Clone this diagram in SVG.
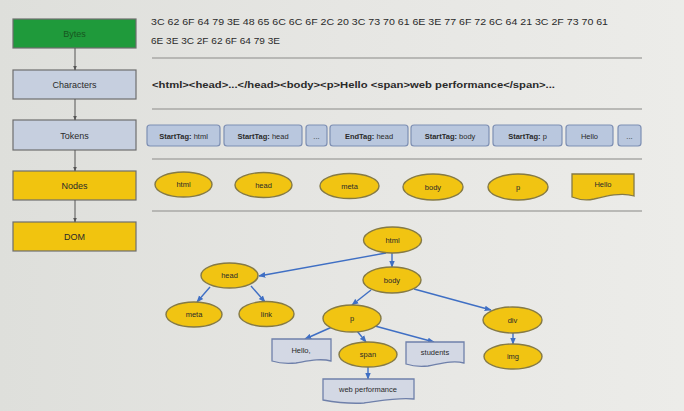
<svg xmlns="http://www.w3.org/2000/svg" width="684" height="411" viewBox="0 0 684 411">
<defs>
<linearGradient id="bg" x1="0" y1="0" x2="1" y2="0">
<stop offset="0" stop-color="#dedfdb"/>
<stop offset="0.5" stop-color="#e6e6e3"/>
<stop offset="1" stop-color="#ecece9"/>
</linearGradient>
<marker id="ag" viewBox="0 0 10 10" refX="9" refY="5" markerWidth="5" markerHeight="5" orient="auto">
<path d="M0,1 L10,5 L0,9 Z" fill="#555"/>
</marker>
<marker id="ab" viewBox="0 0 10 10" refX="9" refY="5" markerWidth="5" markerHeight="5" orient="auto">
<path d="M0,1 L10,5 L0,9 Z" fill="#3f6fc4"/>
</marker>
</defs>
<style>
text{font-family:"Liberation Sans","DejaVu Sans",sans-serif;fill:#2a2a2a}
.stage{stroke:#6e6e6e;stroke-width:1.2}
.lbl{font-size:9px;text-anchor:middle}
.sep{stroke:#a8a8a6;stroke-width:1.3}
.tok{fill:#b9c7de;stroke:#7d8fb3;stroke-width:1.2}
.tt{font-size:7.5px;text-anchor:middle}
.el{fill:#f1c412;stroke:#857a45;stroke-width:1.4}
.et{font-size:7.5px;text-anchor:middle}
.doc{fill:#d3d8e4;stroke:#6f80aa;stroke-width:1.3}
.docy{fill:#f1c412;stroke:#857a45;stroke-width:1.3}
.sa{stroke:#555;stroke-width:1;fill:none;marker-end:url(#ag)}
.ba{stroke:#3f6fc4;stroke-width:1.4;fill:none;marker-end:url(#ab)}
</style>
<rect width="684" height="411" fill="url(#bg)"/>

<g id="stage-bytes"><rect class="stage" x="13" y="19" width="123" height="29" fill="#1f9a3b" stroke="#3c6b3c"/><text class="lbl" x="74.5" y="37" style="fill:#17561f">Bytes</text></g>
<g id="stage-characters"><rect class="stage" x="13" y="70" width="123" height="29" fill="#c6cfdf"/><text class="lbl" x="74.5" y="88">Characters</text></g>
<g id="stage-tokens"><rect class="stage" x="13" y="120" width="123" height="30" fill="#c6cfdf"/><text class="lbl" x="74.5" y="138.5">Tokens</text></g>
<g id="stage-nodes"><rect class="stage" x="13" y="171" width="123" height="29" fill="#f1c40f" stroke="#7d6c2e"/><text class="lbl" x="74.5" y="189">Nodes</text></g>
<g id="stage-dom"><rect class="stage" x="13" y="222" width="123" height="29" fill="#f1c40f" stroke="#7d6c2e"/><text class="lbl" x="74.5" y="240">DOM</text></g>

<g id="bytes-text">
<text x="151" y="25" font-size="9.5" textLength="457" lengthAdjust="spacingAndGlyphs">3C 62 6F 64 79 3E 48 65 6C 6C 6F 2C 20 3C 73 70 61 6E 3E 77 6F 72 6C 64 21 3C 2F 73 70 61</text>
<text x="151" y="44" font-size="9.5" textLength="129" lengthAdjust="spacingAndGlyphs">6E 3E 3C 2F 62 6F 64 79 3E</text>
</g>
<g id="characters-text">
<text x="152" y="88" font-size="9.5" font-weight="bold" textLength="403" lengthAdjust="spacingAndGlyphs">&lt;html&gt;&lt;head&gt;...&lt;/head&gt;&lt;body&gt;&lt;p&gt;Hello &lt;span&gt;web performance&lt;/span&gt;...</text>
</g>

<g id="separators">
<line class="sep" x1="152" y1="58" x2="642" y2="58"/>
<line class="sep" x1="152" y1="109" x2="642" y2="109"/>
<line class="sep" x1="152" y1="159" x2="642" y2="159"/>
<line class="sep" x1="152" y1="211" x2="642" y2="211"/>
</g>

<g id="tokens">
<g id="tok1"><rect class="tok" x="147" y="125" width="73" height="21" rx="3"/><text class="tt" x="183.5" y="138.5"><tspan font-weight="bold">StartTag:</tspan> html</text></g>
<g id="tok2"><rect class="tok" x="224" y="125" width="78" height="21" rx="3"/><text class="tt" x="263" y="138.5"><tspan font-weight="bold">StartTag:</tspan> head</text></g>
<g id="tok3"><rect class="tok" x="306" y="125" width="21" height="21" rx="3"/><text class="tt" x="316.5" y="138.5">...</text></g>
<g id="tok4"><rect class="tok" x="330" y="125" width="78" height="21" rx="3"/><text class="tt" x="369" y="138.5"><tspan font-weight="bold">EndTag:</tspan> head</text></g>
<g id="tok5"><rect class="tok" x="411" y="125" width="78" height="21" rx="3"/><text class="tt" x="450" y="138.5"><tspan font-weight="bold">StartTag:</tspan> body</text></g>
<g id="tok6"><rect class="tok" x="493" y="125" width="69" height="21" rx="3"/><text class="tt" x="527.5" y="138.5"><tspan font-weight="bold">StartTag:</tspan> p</text></g>
<g id="tok7"><rect class="tok" x="566" y="125" width="47" height="21" rx="3"/><text class="tt" x="589.5" y="138.5">Hello</text></g>
<g id="tok8"><rect class="tok" x="618" y="125" width="23" height="21" rx="3"/><text class="tt" x="629.5" y="138.5">...</text></g>
</g>

<g id="nodes-row">
<g id="n-html"><ellipse class="el" cx="183.5" cy="184.5" rx="28.5" ry="12.5"/><text class="et" x="183.5" y="187">html</text></g>
<g id="n-head"><ellipse class="el" cx="263.5" cy="185" rx="28.5" ry="12.5"/><text class="et" x="263.5" y="187.5">head</text></g>
<g id="n-meta"><ellipse class="el" cx="349.5" cy="186" rx="29.5" ry="12.5"/><text class="et" x="349.5" y="188.5">meta</text></g>
<g id="n-body"><ellipse class="el" cx="433" cy="187" rx="30" ry="13"/><text class="et" x="433" y="189.5">body</text></g>
<g id="n-p"><ellipse class="el" cx="518" cy="187" rx="30" ry="13"/><text class="et" x="518" y="189.5">p</text></g>
<g id="n-hello"><path class="docy" d="M572,174 H634 V196 C622,192 606,196 594,199 C585,201 577,199 572,197 Z"/><text class="et" x="603" y="187">Hello</text></g>
</g>

<g id="connectors">
<line class="sa" x1="75" y1="48" x2="75" y2="70"/>
<line class="sa" x1="75" y1="99" x2="75" y2="120"/>
<line class="sa" x1="75" y1="150" x2="75" y2="171"/>
<line class="sa" x1="75" y1="200" x2="75" y2="222"/>
<line class="ba" x1="386" y1="253" x2="259" y2="276"/>
<line class="ba" x1="392" y1="253" x2="392" y2="267"/>
<line class="ba" x1="210" y1="287" x2="197" y2="302"/>
<line class="ba" x1="251" y1="286" x2="265" y2="302"/>
<line class="ba" x1="371" y1="290" x2="352" y2="305"/>
<line class="ba" x1="414" y1="289" x2="491" y2="310"/>
<line class="ba" x1="332" y1="327" x2="305" y2="339"/>
<line class="ba" x1="357" y1="331" x2="366" y2="342"/>
<line class="ba" x1="375" y1="326" x2="434" y2="342"/>
<line class="ba" x1="368" y1="366" x2="368" y2="379"/>
<line class="ba" x1="513" y1="333" x2="513" y2="344"/>
</g>

<g id="tree">
<g id="t-html"><ellipse class="el" cx="392.5" cy="240" rx="29" ry="13"/><text class="et" x="392.5" y="242.5">html</text></g>
<g id="t-head"><ellipse class="el" cx="229.5" cy="275.5" rx="28.5" ry="12.5"/><text class="et" x="229.5" y="278">head</text></g>
<g id="t-body"><ellipse class="el" cx="392" cy="280" rx="29" ry="13"/><text class="et" x="392" y="282.5">body</text></g>
<g id="t-meta"><ellipse class="el" cx="194" cy="314.5" rx="28" ry="12.5"/><text class="et" x="194" y="317">meta</text></g>
<g id="t-link"><ellipse class="el" cx="266.5" cy="314" rx="27.5" ry="12.5"/><text class="et" x="266.5" y="316.5">link</text></g>
<g id="t-p"><ellipse class="el" cx="352" cy="318.5" rx="29" ry="13.5"/><text class="et" x="352" y="321">p</text></g>
<g id="t-div"><ellipse class="el" cx="512.5" cy="320" rx="29.5" ry="13"/><text class="et" x="512.5" y="322.5">div</text></g>
<g id="t-img"><ellipse class="el" cx="513" cy="356.5" rx="29" ry="12.5"/><text class="et" x="513" y="359">img</text></g>
<g id="t-span"><ellipse class="el" cx="368" cy="354.5" rx="29" ry="12.5"/><text class="et" x="368" y="357">span</text></g>
<g id="t-hello"><path class="doc" d="M272,339 H331 V361 C320,358 308,361 296,363 C286,364 278,363 272,361 Z"/><text class="et" x="301" y="353">Hello,</text></g>
<g id="t-students"><path class="doc" d="M406,342 H464 V363 C452,360 440,364 428,366 C419,367 412,366 406,364 Z"/><text class="et" x="435" y="355">students</text></g>
<g id="t-web"><path class="doc" d="M323,379 H414 V399 C398,397 380,401 364,403 C348,404 334,402 323,400 Z"/><text class="et" x="368" y="391.5">web performance</text></g>
</g>
</svg>
